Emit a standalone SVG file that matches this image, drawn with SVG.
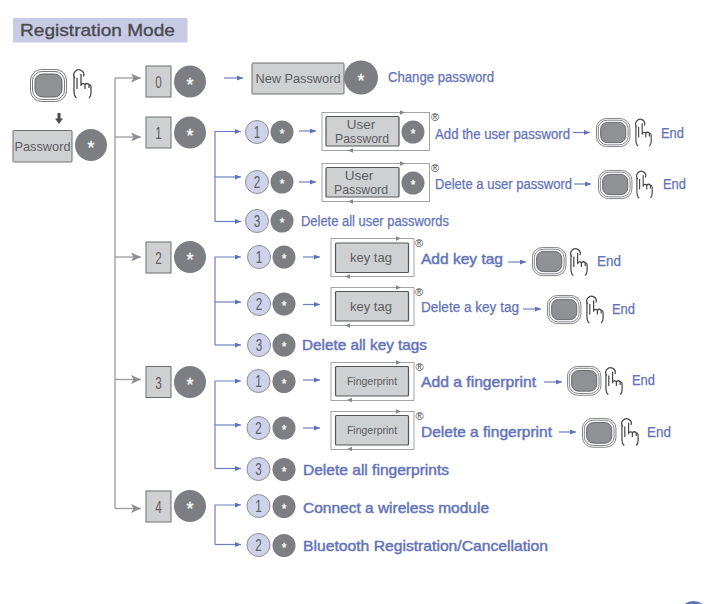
<svg xmlns="http://www.w3.org/2000/svg" width="708" height="604" viewBox="0 0 708 604">
<style>
text{font-family:"Liberation Sans",Arial,sans-serif}
.key{fill:#cfd0d2;stroke:#6d6e71;stroke-width:1}
.ikey{fill:#cfd0d2;stroke:#55565a;stroke-width:1.2}
.frame{fill:#fff;stroke:#a2a3a6;stroke-width:1}
.dot{fill:#7d7e82}
.num{fill:#cfd2ea;stroke:#8e8f94;stroke-width:1}
.st{fill:#fff;stroke:#fff;stroke-width:.3;text-anchor:middle}
.big{font-size:18px}
.small{font-size:12px}
.kt{fill:#5c5d61;text-anchor:middle}
.n{fill:#5c5d61;text-anchor:middle;font-size:16px}
.lab{fill:#6273b9;font-size:14px;stroke:#6273b9;stroke-width:.25}
.labb{fill:#6273b9;font-size:15px;stroke:#6273b9;stroke-width:.45}
.r{fill:#444;font-size:11px;text-anchor:middle}
.g{fill:none;stroke:#9a9b9e;stroke-width:1.3}
.b{fill:none;stroke:#6d7ec0;stroke-width:1.2}
</style>
<defs>
<marker id="ag" markerUnits="userSpaceOnUse" markerWidth="11" markerHeight="10" refX="10" refY="4.5" orient="auto"><path d="M0 0L10 4.500L0 9L2.500 4.500Z" fill="#8d8e91"/></marker>
<marker id="ab" markerUnits="userSpaceOnUse" markerWidth="7" markerHeight="6" refX="6" refY="2.5" orient="auto"><path d="M0 0L6 2.500L0 5Z" fill="#5e70b8"/></marker>
<path id="tr" d="M0 -2.200L5 0L0 2.200Z" fill="#85868a"/>
<path id="tl" d="M0 -2.200L-5 0L0 2.200Z" fill="#85868a"/>
<g id="btn">
<rect x="0.5" y="0.5" width="36" height="32" rx="11" fill="#fff" stroke="#77787c"/>
<rect x="2.500" y="2.500" width="32" height="28" rx="9.500" fill="#fff" stroke="#77787c"/>
<rect x="5" y="5" width="27" height="23" rx="7.500" fill="#909195" stroke="#606165"/>
</g>
<g id="hand" fill="none" stroke="#47484b" stroke-width="1.3">
<path d="M2 9A5 5 0 1 1 10.500 7.500"/>
<path d="M1 8V22Q1 27 3.500 29"/>
<path d="M4 9V20M8 5V17M8 16Q10 13.500 12 15.500V20M12 15.500Q14 13.500 16 15.500V19M16.500 15.500Q18 16 18 18V24Q18 27 16 29"/>
</g>
</defs>

<g id="title">
<rect x="13" y="18" width="174.500" height="24.500" rx="1" fill="#c9cbe6"/>
<text x="20" y="36" font-size="17" fill="#4a4a4f" stroke="#4a4a4f" stroke-width=".35" textLength="155" lengthAdjust="spacingAndGlyphs">Registration Mode</text>
</g>

<g id="connectors">
<path d="M59 113V119" stroke="#4a4b4e" stroke-width="3" fill="none"/>
<path d="M55 118.500H63L59 124Z" fill="#4a4b4e"/>
<path class="g" d="M115 78V508.500"/>
<path class="g" d="M115 78H141" marker-end="url(#ag)"/>
<path class="g" d="M115 137H141" marker-end="url(#ag)"/>
<path class="g" d="M115 257H141" marker-end="url(#ag)"/>
<path class="g" d="M115 379.500H141" marker-end="url(#ag)"/>
<path class="g" d="M115 508.500H141" marker-end="url(#ag)"/>
<path class="b" d="M224 78H243" marker-end="url(#ab)"/>
<path class="b" d="M215 221.500V131.500H241" marker-end="url(#ab)"/>
<path class="b" d="M215 177H241" marker-end="url(#ab)"/>
<path class="b" d="M215 221.500H241" marker-end="url(#ab)"/>
<path class="b" d="M299 131H316" marker-end="url(#ab)"/>
<path class="b" d="M299 182H316" marker-end="url(#ab)"/>
<path class="b" d="M573 132.500H590" marker-end="url(#ab)"/>
<path class="b" d="M574 184H591" marker-end="url(#ab)"/>
<path class="b" d="M215 345V257H241" marker-end="url(#ab)"/>
<path class="b" d="M215 302H241" marker-end="url(#ab)"/>
<path class="b" d="M215 345H241" marker-end="url(#ab)"/>
<path class="b" d="M303 257H320" marker-end="url(#ab)"/>
<path class="b" d="M303 304.500H320" marker-end="url(#ab)"/>
<path class="b" d="M508 262H526" marker-end="url(#ab)"/>
<path class="b" d="M523 309H541" marker-end="url(#ab)"/>
<path class="b" d="M215 468.500V381H241" marker-end="url(#ab)"/>
<path class="b" d="M215 425H241" marker-end="url(#ab)"/>
<path class="b" d="M215 468.500H241" marker-end="url(#ab)"/>
<path class="b" d="M303 380H320" marker-end="url(#ab)"/>
<path class="b" d="M303 428H320" marker-end="url(#ab)"/>
<path class="b" d="M544 382H562" marker-end="url(#ab)"/>
<path class="b" d="M559 432H576" marker-end="url(#ab)"/>
<path class="b" d="M215 544.500V505H241" marker-end="url(#ab)"/>
<path class="b" d="M215 544.500H241" marker-end="url(#ab)"/>
</g>

<g id="start">
<use href="#btn" x="30" y="69"/>
<use href="#hand" x="73" y="69"/>
<rect class="key" x="13" y="130.500" width="59" height="31.500" rx="1"/>
<text class="kt" x="42.500" y="151" font-size="13.500" textLength="56" lengthAdjust="spacingAndGlyphs">Password</text>
<circle class="dot" cx="91" cy="145" r="16"/><text class="st big" x="91" y="154">*</text>
</g>

<g id="menu0">
<rect class="key" x="146" y="66" width="25" height="31"/><text class="n" x="158.500" y="88" textLength="6.500" lengthAdjust="spacingAndGlyphs">0</text>
<circle class="dot" cx="190" cy="81.500" r="16"/><text class="st big" x="190" y="90.500">*</text>
</g>
<g id="change-password">
<rect class="key" x="252" y="63" width="92" height="31" rx="1"/>
<text class="kt" x="298" y="83" font-size="13" textLength="85" lengthAdjust="spacingAndGlyphs">New Password</text>
<circle class="dot" cx="361" cy="77.500" r="17"/><text class="st big" x="361" y="86.500">*</text>
<text class="lab" x="388" y="82" textLength="106" lengthAdjust="spacingAndGlyphs">Change password</text>
</g>

<g id="menu1">
<rect class="key" x="146" y="117" width="25" height="31"/><text class="n" x="158.500" y="139" textLength="6.500" lengthAdjust="spacingAndGlyphs">1</text>
<circle class="dot" cx="190" cy="132.500" r="16"/><text class="st big" x="190" y="141.500">*</text>
</g>
<g id="menu1-1">
<circle class="num" cx="257" cy="132" r="11.500"/><text class="n" x="257" y="137.500" textLength="6.500" lengthAdjust="spacingAndGlyphs">1</text>
<circle class="dot" cx="282" cy="132" r="11.500"/><text class="st small" x="282" y="138">*</text>
<rect class="frame" x="322" y="112.500" width="107.500" height="38"/>
<use href="#tr" x="400" y="112.500"/><use href="#tl" x="353" y="150.500"/>
<rect class="ikey" x="326" y="116.500" width="73" height="29.500" rx="1"/>
<text class="kt" x="361" y="129" font-size="13.500">User</text><text class="kt" x="362" y="143" font-size="13.500" textLength="54" lengthAdjust="spacingAndGlyphs">Password</text>
<circle class="dot" cx="413" cy="132" r="11.500"/><text class="st small" x="413" y="138">*</text>
<text class="r" x="435" y="121">®</text>
<text class="lab" x="435" y="138.500" textLength="135" lengthAdjust="spacingAndGlyphs">Add the user password</text>
<use href="#btn" transform="translate(596 118) scale(.93 .88)"/>
<use href="#hand" transform="translate(635 118.500) scale(.9 .95)"/>
<text class="lab" x="661" y="138" textLength="23" lengthAdjust="spacingAndGlyphs">End</text>
</g>
<g id="menu1-2">
<circle class="num" cx="257" cy="182" r="11.500"/><text class="n" x="257" y="187.500" textLength="6.500" lengthAdjust="spacingAndGlyphs">2</text>
<circle class="dot" cx="282" cy="182" r="11.500"/><text class="st small" x="282" y="188">*</text>
<rect class="frame" x="322" y="163.500" width="107.500" height="38"/>
<use href="#tr" x="400" y="163.500"/><use href="#tl" x="353" y="201.500"/>
<rect class="ikey" x="326" y="167.500" width="73" height="29.500" rx="1"/>
<text class="kt" x="359" y="180" font-size="13.500">User</text><text class="kt" x="361" y="194" font-size="13.500" textLength="54" lengthAdjust="spacingAndGlyphs">Password</text>
<circle class="dot" cx="413" cy="183" r="11.500"/><text class="st small" x="413" y="189">*</text>
<text class="r" x="435" y="172">®</text>
<text class="lab" x="435" y="189" textLength="137" lengthAdjust="spacingAndGlyphs">Delete a user password</text>
<use href="#btn" transform="translate(598 170) scale(.93 .88)"/>
<use href="#hand" transform="translate(636 170.500) scale(.9 .95)"/>
<text class="lab" x="663" y="189" textLength="23" lengthAdjust="spacingAndGlyphs">End</text>
</g>
<g id="menu1-3">
<circle class="num" cx="257" cy="221" r="11.500"/><text class="n" x="257" y="226.500" textLength="6.500" lengthAdjust="spacingAndGlyphs">3</text>
<circle class="dot" cx="282" cy="221" r="11.500"/><text class="st small" x="282" y="227">*</text>
<text class="lab" x="301" y="226" textLength="148" lengthAdjust="spacingAndGlyphs">Delete all user passwords</text>
</g>

<g id="menu2">
<rect class="key" x="146" y="242" width="25" height="31"/><text class="n" x="158.500" y="264" textLength="6.500" lengthAdjust="spacingAndGlyphs">2</text>
<circle class="dot" cx="190" cy="257" r="16"/><text class="st big" x="190" y="266">*</text>
</g>
<g id="menu2-1">
<circle class="num" cx="259" cy="257" r="11.500"/><text class="n" x="259" y="262.500" textLength="6.500" lengthAdjust="spacingAndGlyphs">1</text>
<circle class="dot" cx="284" cy="257" r="11.500"/><text class="st small" x="284" y="263">*</text>
<rect class="frame" x="331" y="238.500" width="83" height="38"/>
<use href="#tr" x="396" y="238.500"/><use href="#tl" x="350" y="276.500"/>
<rect class="ikey" x="335.500" y="243" width="73" height="29.500" rx="1"/>
<text class="kt" x="371" y="262" font-size="13">key tag</text>
<text class="r" x="419" y="247">®</text>
<text class="labb" x="421" y="263.500" textLength="82" lengthAdjust="spacingAndGlyphs">Add key tag</text>
<use href="#btn" transform="translate(532 247) scale(.93 .88)"/>
<use href="#hand" transform="translate(570 248) scale(.95 .95)"/>
<text class="lab" x="597" y="265.500" textLength="24" lengthAdjust="spacingAndGlyphs">End</text>
</g>
<g id="menu2-2">
<circle class="num" cx="259" cy="304" r="11.500"/><text class="n" x="259" y="309.500" textLength="6.500" lengthAdjust="spacingAndGlyphs">2</text>
<circle class="dot" cx="284" cy="304" r="11.500"/><text class="st small" x="284" y="310">*</text>
<rect class="frame" x="331" y="287.500" width="83" height="38"/>
<use href="#tr" x="396" y="287.500"/><use href="#tl" x="350" y="325.500"/>
<rect class="ikey" x="335.500" y="291.500" width="73" height="29.500" rx="1"/>
<text class="kt" x="371" y="311" font-size="13">key tag</text>
<text class="r" x="419" y="296">®</text>
<text class="lab" x="421" y="312" textLength="98" lengthAdjust="spacingAndGlyphs">Delete a key tag</text>
<use href="#btn" transform="translate(547 295) scale(.93 .88)"/>
<use href="#hand" transform="translate(586 295.500) scale(.95 .95)"/>
<text class="lab" x="612" y="314" textLength="23" lengthAdjust="spacingAndGlyphs">End</text>
</g>
<g id="menu2-3">
<circle class="num" cx="259" cy="345" r="11.500"/><text class="n" x="259" y="350.500" textLength="6.500" lengthAdjust="spacingAndGlyphs">3</text>
<circle class="dot" cx="284" cy="345" r="11.500"/><text class="st small" x="284" y="351">*</text>
<text class="labb" x="302" y="350" textLength="125" lengthAdjust="spacingAndGlyphs">Delete all key tags</text>
</g>

<g id="menu3">
<rect class="key" x="146" y="366.500" width="25" height="31"/><text class="n" x="158.500" y="388.500" textLength="6.500" lengthAdjust="spacingAndGlyphs">3</text>
<circle class="dot" cx="190" cy="382" r="16"/><text class="st big" x="190" y="391">*</text>
</g>
<g id="menu3-1">
<circle class="num" cx="258.500" cy="381" r="11.500"/><text class="n" x="258.500" y="386.500" textLength="6.500" lengthAdjust="spacingAndGlyphs">1</text>
<circle class="dot" cx="284" cy="381.500" r="11.500"/><text class="st small" x="284" y="387.500">*</text>
<rect class="frame" x="331" y="362.500" width="83" height="38"/>
<use href="#tr" x="396" y="362.500"/><use href="#tl" x="352" y="400"/>
<rect class="ikey" x="335.500" y="366.500" width="73" height="29.500" rx="1"/>
<text class="kt" x="372" y="385" font-size="10.500">Fingerprint</text>
<text class="r" x="419.500" y="371">®</text>
<text class="labb" x="421" y="387" textLength="115" lengthAdjust="spacingAndGlyphs">Add a fingerprint</text>
<use href="#btn" transform="translate(567 366) scale(.93 .9)"/>
<use href="#hand" transform="translate(605 367) scale(.95 .95)"/>
<text class="lab" x="632" y="385" textLength="23" lengthAdjust="spacingAndGlyphs">End</text>
</g>
<g id="menu3-2">
<circle class="num" cx="258.500" cy="428" r="11.500"/><text class="n" x="258.500" y="433.500" textLength="6.500" lengthAdjust="spacingAndGlyphs">2</text>
<circle class="dot" cx="284" cy="428" r="11.500"/><text class="st small" x="284" y="434">*</text>
<rect class="frame" x="331" y="411.500" width="83" height="38"/>
<use href="#tr" x="396" y="411.500"/><use href="#tl" x="352" y="449"/>
<rect class="ikey" x="335.500" y="415.500" width="73" height="29.500" rx="1"/>
<text class="kt" x="372" y="433.500" font-size="10.500">Fingerprint</text>
<text class="r" x="419.500" y="420">®</text>
<text class="labb" x="421" y="437" textLength="131" lengthAdjust="spacingAndGlyphs">Delete a fingerprint</text>
<use href="#btn" transform="translate(582 418) scale(.93 .9)"/>
<use href="#hand" transform="translate(621 418) scale(.95 .95)"/>
<text class="lab" x="647" y="437" textLength="24" lengthAdjust="spacingAndGlyphs">End</text>
</g>
<g id="menu3-3">
<circle class="num" cx="258.500" cy="469" r="11.500"/><text class="n" x="258.500" y="474.500" textLength="6.500" lengthAdjust="spacingAndGlyphs">3</text>
<circle class="dot" cx="284" cy="469.500" r="11.500"/><text class="st small" x="284" y="475.500">*</text>
<text class="labb" x="303" y="475" textLength="146" lengthAdjust="spacingAndGlyphs">Delete all fingerprints</text>
</g>

<g id="menu4">
<rect class="key" x="146" y="491" width="25" height="31"/><text class="n" x="158.500" y="513" textLength="6.500" lengthAdjust="spacingAndGlyphs">4</text>
<circle class="dot" cx="190" cy="506" r="16"/><text class="st big" x="190" y="515">*</text>
</g>
<g id="menu4-1">
<circle class="num" cx="258.500" cy="506" r="11.500"/><text class="n" x="258.500" y="511.500" textLength="6.500" lengthAdjust="spacingAndGlyphs">1</text>
<circle class="dot" cx="284" cy="506.500" r="11.500"/><text class="st small" x="284" y="512.500">*</text>
<text class="labb" x="303" y="513" textLength="186" lengthAdjust="spacingAndGlyphs">Connect a wireless module</text>
</g>
<g id="menu4-2">
<circle class="num" cx="258.500" cy="545" r="11.500"/><text class="n" x="258.500" y="550.500" textLength="6.500" lengthAdjust="spacingAndGlyphs">2</text>
<circle class="dot" cx="284" cy="545.500" r="11.500"/><text class="st small" x="284" y="551.500">*</text>
<text class="labb" x="303" y="551" textLength="245" lengthAdjust="spacingAndGlyphs">Bluetooth Registration/Cancellation</text>
</g>

<circle id="page-mark" cx="693.500" cy="616" r="15" fill="#6273b9"/>
</svg>
